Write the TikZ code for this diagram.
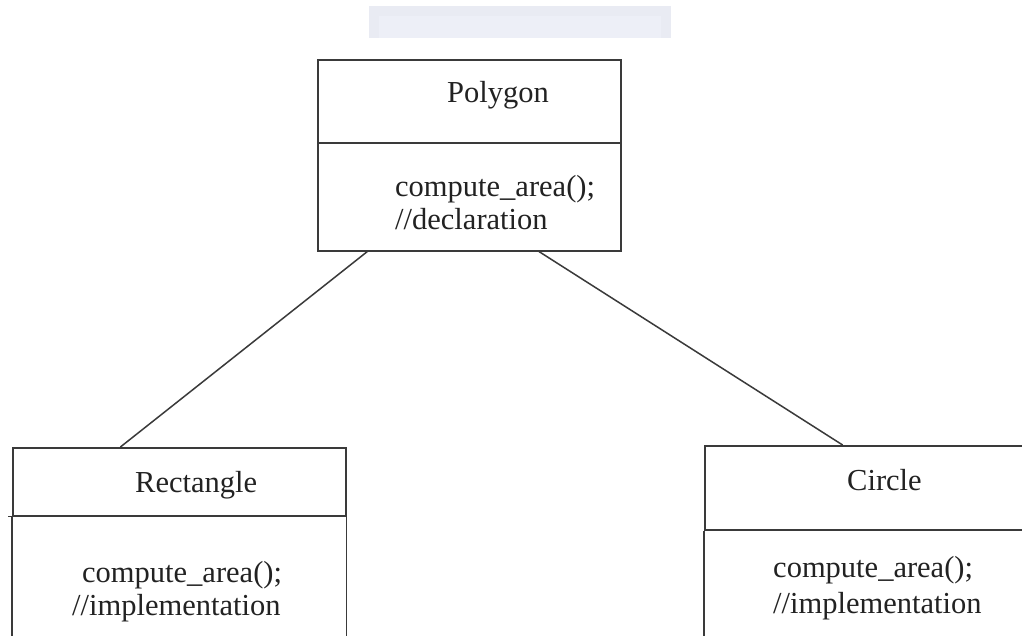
\documentclass[tikz,border=0pt]{standalone}
\usepackage{fontspec}
\setmainfont{Liberation Serif}
\usetikzlibrary{calc}
\definecolor{linegray}{HTML}{3A3A3A}
\definecolor{textgray}{HTML}{222222}
\definecolor{faintframe}{HTML}{E9EBF3}
\definecolor{faintfill}{HTML}{EDEFF7}
\begin{document}
\begin{tikzpicture}[x=1pt,y=-1pt,
  compartment/.style={draw=linegray, line width=1.6pt, rectangle, inner sep=0pt, anchor=north west},
  conn/.style={draw=linegray, line width=1.5pt},
  txt/.style={font=\fontsize{30.5}{33}\selectfont, text=textgray, inner sep=0pt, anchor=base west}]
\clip (0,0) rectangle (1022,636);
\fill[white] (0,0) rectangle (1022,636);

% faint banner at the top edge
\fill[faintframe] (369,6) rectangle (671,38);
\fill[faintfill] (379,16) rectangle (661,38);

% Polygon class
\node[compartment, minimum width=303pt, minimum height=83pt] (polyhead) at (317,59) {};
\node[compartment, minimum width=303pt, minimum height=108pt] (polybody) at (317,142) {};
\node[txt] (polyname) at (447,103) {Polygon};
\node[txt] (polyop) at (395,197) {compute\_area();};
\node[txt] (polynote) at (395,230) {//declaration};

% Rectangle class (lower compartment open at the bottom)
\node[compartment, minimum width=333pt, minimum height=68pt] (recthead) at (12,447) {};
\draw[conn] (recthead.south west) -- ++(0,121);
\draw[conn] (recthead.south east) -- ++(0,121);
\draw[conn] (recthead.south west) -- ++(-4,0);
\node[txt] (rectname) at (135,492) {Rectangle};
\node[txt] (rectop) at (82,582) {compute\_area();};
\node[txt] (rectnote) at (72,615) {//implementation};

% Circle class (runs past the right edge)
\node[compartment, minimum width=330pt, minimum height=84pt] (circhead) at (704,445) {};
\draw[conn] (circhead.south west) -- ++(0,121);
\node[txt] (circname) at (847,490) {Circle};
\node[txt] (circop) at (773,577) {compute\_area();};
\node[txt] (circnote) at (773,613) {//implementation};

% inheritance links
\draw[conn] ($(polybody.south west)!0.165!(polybody.south east)$) -- ($(recthead.north west)!0.324!(recthead.north east)$);
\draw[conn] ($(polybody.south west)!0.729!(polybody.south east)$) -- ($(circhead.north west)!0.418!(circhead.north east)$);
\end{tikzpicture}
\end{document}
